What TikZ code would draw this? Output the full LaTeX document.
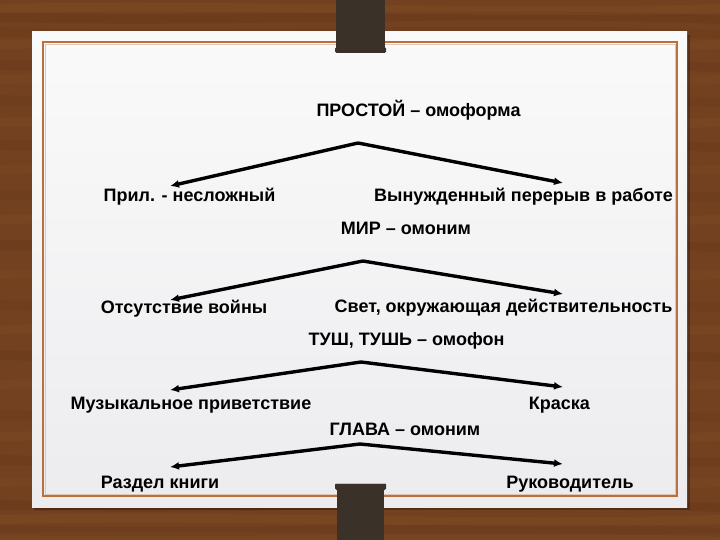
\documentclass[tikz,border=0pt]{standalone}
\usepackage{fontspec}
\setmainfont{Liberation Sans}
\usetikzlibrary{arrows.meta}
\definecolor{wood}{HTML}{73411F}
\definecolor{wooddark}{HTML}{4F2A12}
\definecolor{woodlight}{HTML}{93602F}
\definecolor{barcol}{HTML}{3A3129}
\definecolor{frameline}{HTML}{B8703F}
\definecolor{paper}{HTML}{FAFAFA}
\definecolor{paperlow}{HTML}{ECECEF}
\tikzset{
  lbl/.style={font=\bfseries\fontsize{18}{21}\selectfont, inner sep=0pt, anchor=base},
  conn/.style={line width=3.4pt, -{Latex[length=9pt,width=8pt]}, black},
}
\begin{document}
\begin{tikzpicture}[x=1pt,y=-1pt]
\useasboundingbox (0,0) rectangle (720,540);
% wood background
\fill[wood] (0,0) rectangle (720,540);
\foreach \yy/\op in {12/0.18,27/0.12,60/0.15,95/0.1,140/0.15,190/0.12,240/0.15,300/0.1,350/0.15,410/0.12,455/0.15,500/0.18,525/0.15}{
  \fill[wooddark,opacity=\op] (0,\yy) .. controls (240,\yy+6) and (480,\yy-6) .. (720,\yy+3) -- (720,\yy+12) .. controls (480,\yy+2) and (240,\yy+16) .. (0,\yy+10) -- cycle;
}
\foreach \yy/\op in {4/0.18,40/0.15,75/0.12,118/0.15,165/0.12,215/0.15,270/0.12,325/0.15,380/0.12,432/0.15,478/0.12,515/0.18,533/0.15}{
  \fill[woodlight,opacity=\op] (0,\yy) .. controls (240,\yy-5) and (480,\yy+7) .. (720,\yy) -- (720,\yy+9) .. controls (480,\yy+15) and (240,\yy+4) .. (0,\yy+9) -- cycle;
}
% paper
\fill[black,opacity=0.25] (34,35) rectangle (690,510);
\shade[top color=paper, bottom color=paperlow] (32,32) rectangle (687,507);
\draw[frameline, line width=1.3pt] (43,42) rectangle (677,496);
\draw[frameline!40, line width=0.6pt] (45,44) rectangle (675,494);
% bars
\fill[barcol] (336,0) rectangle (385,49);
\fill[barcol, rounded corners=1.5pt] (335,47) rectangle (386,53);
\fill[barcol] (337,487) rectangle (384,540);
\fill[barcol, rounded corners=1.5pt] (335,483) rectangle (386,490);
\draw[white!70!barcol, line width=0.8pt] (336,483.5) -- (385,483.5);

% labels
\node[lbl] (t1)  at (418.5,117) {ПРОСТОЙ – омоформа};
\node[lbl] (l1)  at (189.5,202) {Прил. - несложный};
\node[lbl] (r1)  at (523.5,202) {Вынужденный перерыв в работе};
\node[lbl] (t2)  at (406,235) {МИР – омоним};
\node[lbl] (l2)  at (184,313) {Отсутствие войны};
\node[lbl] (r2)  at (503.5,312) {Свет, окружающая действительность};
\node[lbl] (t3)  at (406.5,345) {ТУШ, ТУШЬ – омофон};
\node[lbl] (l3)  at (191,409) {Музыкальное приветствие};
\node[lbl] (r3)  at (559.5,409) {Краска};
\node[lbl] (t4)  at (405,435) {ГЛАВА – омоним};
\node[lbl] (l4)  at (160,488) {Раздел книги};
\node[lbl] (r4)  at (570,488) {Руководитель};

% arrow points
\coordinate (a1) at (358,143);
\coordinate (p1l) at (170,186);
\coordinate (p1r) at (563,183);
\coordinate (a2) at (363,261);
\coordinate (p2l) at (170,300);
\coordinate (p2r) at (563,294);
\coordinate (a3) at (361,362);
\coordinate (p3l) at (170,390);
\coordinate (p3r) at (563,387);
\coordinate (a4) at (360,444);
\coordinate (p4l) at (170,467);
\coordinate (p4r) at (563,464);

\foreach \i in {1,2,3,4}{
  \draw[conn] (a\i) -- (p\i l);
  \draw[conn] (a\i) -- (p\i r);
}
\end{tikzpicture}
\end{document}
